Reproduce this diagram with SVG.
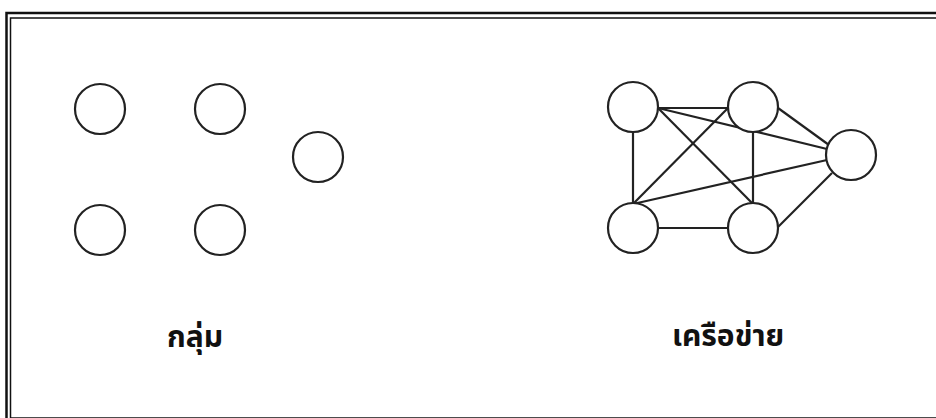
<svg xmlns="http://www.w3.org/2000/svg" width="936" height="418" viewBox="0 0 936 418">
<style>
.frame{fill:none;stroke:#111}
.node{fill:#fff;stroke:#222;stroke-width:2.2}
.edge{stroke:#222;stroke-width:2.2;fill:none}
.lbl{font-family:"Noto Sans Thai","Noto Sans","DejaVu Sans",sans-serif;font-weight:bold;font-size:30px;fill:#111}
</style>
<rect width="936" height="418" fill="#fff"/>
<rect class="frame" x="6.5" y="13" width="960" height="420" stroke-width="2.5"/>
<rect class="frame" x="10.5" y="18" width="960" height="400" stroke-width="1.5"/>
<g id="group-left">
<g id="g1"><circle class="node" cx="100" cy="109" r="25"/></g>
<g id="g2"><circle class="node" cx="220" cy="109" r="25"/></g>
<g id="g3"><circle class="node" cx="318" cy="157" r="25"/></g>
<g id="g4"><circle class="node" cx="100" cy="230" r="25"/></g>
<g id="g5"><circle class="node" cx="220" cy="230" r="25"/></g>
<text class="lbl" x="167" y="347">กลุ่ม</text>
</g>
<g id="connectors">
<line class="edge" x1="658" y1="108" x2="728" y2="108"/>
<line class="edge" x1="633" y1="131" x2="633" y2="204"/>
<line class="edge" x1="658" y1="108" x2="753" y2="204"/>
<line class="edge" x1="658" y1="108" x2="827" y2="149"/>
<line class="edge" x1="728" y1="108" x2="633" y2="204"/>
<line class="edge" x1="753" y1="131" x2="753" y2="204"/>
<line class="edge" x1="778" y1="108" x2="829" y2="145"/>
<line class="edge" x1="633" y1="204" x2="827" y2="160"/>
<line class="edge" x1="658" y1="228" x2="728" y2="228"/>
<line class="edge" x1="778" y1="227" x2="832" y2="173"/>
</g>
<g id="nA"><circle class="node" cx="633" cy="107" r="25"/></g>
<g id="nB"><circle class="node" cx="753" cy="107" r="25"/></g>
<g id="nC"><circle class="node" cx="851" cy="155" r="25"/></g>
<g id="nD"><circle class="node" cx="633" cy="228" r="25"/></g>
<g id="nE"><circle class="node" cx="753" cy="228" r="25"/></g>
<text class="lbl" x="672" y="346">เครือข่าย</text>
</svg>
